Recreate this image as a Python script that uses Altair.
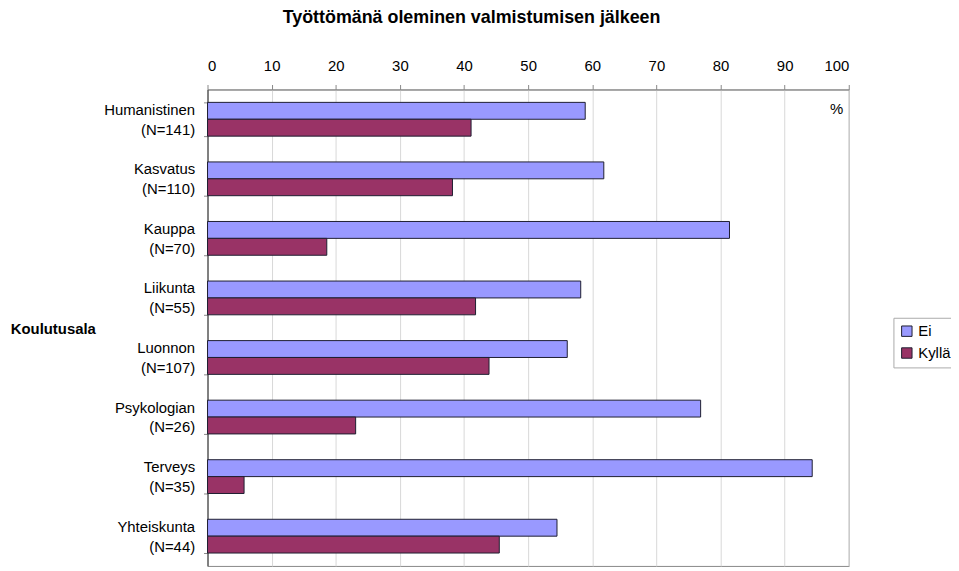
import altair as alt
import pandas as pd

names = ["Humanistinen", "Kasvatus", "Kauppa", "Liikunta", "Luonnon",
         "Psykologian", "Terveys", "Yhteiskunta"]
ns = [141, 110, 70, 55, 107, 26, 35, 44]
ei = [58.9, 61.8, 81.4, 58.2, 56.1, 76.9, 94.3, 54.5]
kylla = [41.1, 38.2, 18.6, 41.8, 43.9, 23.1, 5.7, 45.5]
series = ["Ei", "Kyllä"]
colors = ["#9999FF", "#993366"]

labels = [f"{a}|(N={n})" for a, n in zip(names, ns)]
rows = []
for lab, a, b in zip(labels, ei, kylla):
    rows.append({"ala": lab, "sarja": "Ei", "arvo": a})
    rows.append({"ala": lab, "sarja": "Kyllä", "arvo": b})
df = pd.DataFrame(rows)

FONT = "Liberation Sans"

bars = alt.Chart(df).mark_bar(stroke="#1e1e30", strokeWidth=1).encode(
    x=alt.X("arvo:Q", scale=alt.Scale(domain=[0, 100], nice=False),
            axis=alt.Axis(orient="top", values=list(range(0, 101, 10)), title=None,
                          labelFontSize=15, labelFont=FONT, labelColor="black",
                          tickSize=5, tickColor="#888", domainColor="#888",
                          labelPadding=11, grid=True, gridColor="#d8d8d8")),
    y=alt.Y("ala:N", sort=labels,
            scale=alt.Scale(paddingInner=0.433, paddingOuter=0.2165),
            axis=alt.Axis(title="Koulutusala", titleAngle=0, titleAlign="right",
                          titleBaseline="middle", titleX=-113, titleY=241,
                          titleFont=FONT, titleFontSize=15, titleFontWeight="bold",
                          titleColor="black",
                          labelExpr="split(datum.label, '|')", labelLineHeight=20,
                          labelOffset=-10,
                          labelFont=FONT, labelFontSize=15, labelColor="black",
                          labelPadding=9, tickSize=4, tickColor="#888", tickBand="extent",
                          domainColor="#333")),
    yOffset=alt.YOffset("sarja:N", sort=series, scale=alt.Scale(paddingInner=0, paddingOuter=0)),
    color=alt.Color("sarja:N", sort=series,
                    scale=alt.Scale(domain=series, range=colors),
                    legend=alt.Legend(title=None, orient="none", legendX=691, legendY=230,
                                      symbolType="square", symbolSize=110,
                                      symbolStrokeColor="#1e1e30", symbolStrokeWidth=1,
                                      labelFont=FONT, labelFontSize=15, labelColor="black",
                                      strokeColor="#aaa", padding=6, rowPadding=6,
                                      fillColor="white")),
)

pct = alt.Chart(pd.DataFrame({"t": ["%"]})).mark_text(
    fontSize=15, font=FONT, color="black", align="center", baseline="middle"
).encode(x=alt.datum(98.1), y=alt.value(20), text="t:N")

chart = alt.layer(bars, pct).properties(
    width=646, height=480,
    autosize=alt.AutoSizeParams(type="none"),
    padding={"left": 201, "top": 80, "right": 103, "bottom": 0},
    title=alt.TitleParams("Työttömänä oleminen valmistumisen jälkeen", font=FONT,
                          fontSize=18, fontWeight="bold", color="black",
                          anchor="middle", dx=-57, offset=32),
).configure_view(stroke="#888", strokeWidth=1)

chart.save("out.html", embed_options={"renderer": "svg", "actions": False})
